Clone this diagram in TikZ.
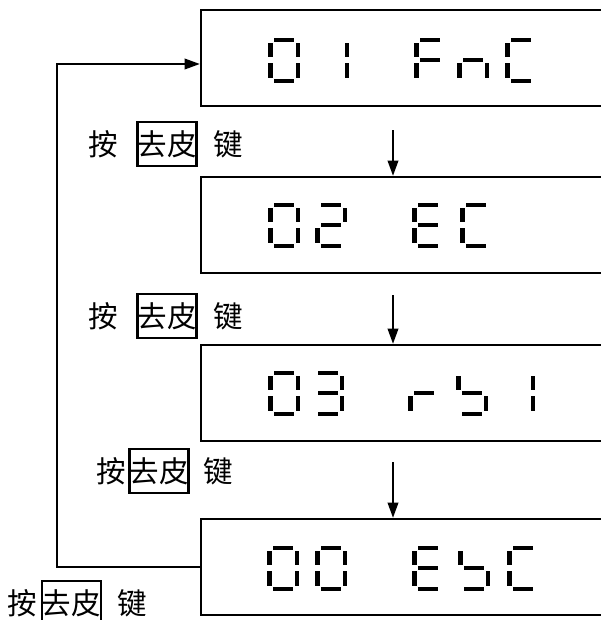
\documentclass[tikz,border=0pt]{standalone}
\usepackage{fontspec}
\newfontfamily\cjk{Noto Sans CJK SC}
\usepackage{tikz}
\usetikzlibrary{arrows.meta,positioning}

\tikzset{
	disp/.style={rectangle, draw, line width=0.55mm, minimum width=110mm, minimum height=24mm, inner sep=0pt},
	keytxt/.style={font=\cjk\fontsize{21}{21}\selectfont, inner sep=0pt, text height=18.5pt, text depth=2.5pt},
	keybox/.style={keytxt, draw, line width=0.55mm, minimum height=11mm, inner xsep=0pt},
	flow/.style={line width=0.55mm, -{Triangle[length=3.8mm,width=2.6mm]}},
	sega/.style={insert path={(6,0) rectangle (26,4)}},
	segb/.style={insert path={(27.5,5) rectangle (32,19)}},
	segc/.style={insert path={(27.5,25) rectangle (32,40)}},
	segd/.style={insert path={(6,41) rectangle (26,45)}},
	sege/.style={insert path={(0,25) rectangle (4.5,40)}},
	segf/.style={insert path={(0,5) rectangle (4.5,19)}},
	segg/.style={insert path={(6,20) rectangle (26,24)}}
}
\newcommand{\lcdchar}[3]{\foreach \s in {#3}{\fill[shift={(#1,#2)}] [seg\s];}}

\begin{document}
\begin{tikzpicture}[x=0.25mm, y=-0.25mm]
	\useasboundingbox (0,0) rectangle (600,620);

	\node[disp] (d1) at (421,58) {};
	\node[disp] (d2) at (421,225) {};
	\node[disp] (d3) at (421,393) {};
	\node[disp] (d4) at (421,567) {};

	\lcdchar{268}{38}{a,b,c,d,e,f}
	\lcdchar{317}{38}{b,c}
	\lcdchar{414}{38}{a,f,g,e}
	\lcdchar{457}{38}{g,e,c}
	\lcdchar{505}{38}{a,f,e,d}

	\lcdchar{268}{203}{a,b,c,d,e,f}
	\lcdchar{315}{203}{a,b,g,e,d}
	\lcdchar{412}{203}{a,f,g,e,d}
	\lcdchar{460}{203}{a,f,e,d}

	\lcdchar{268}{371}{a,b,c,d,e,f}
	\lcdchar{312}{371}{a,b,g,c,d}
	\lcdchar{408}{371}{e,g}
	\lcdchar{456}{371}{f,g,c,d}
	\lcdchar{503}{371}{b,c}

	\lcdchar{267}{546}{a,b,c,d,e,f}
	\lcdchar{315}{546}{a,b,c,d,e,f}
	\lcdchar{412}{546}{a,f,g,e,d}
	\lcdchar{458}{546}{f,g,c,d}
	\lcdchar{507}{546}{a,f,e,d}

	\node[keybox] (k1) at (167,144) {去皮};
	\node[keytxt, left=4.5mm of k1] (p1) {按};
	\node[keytxt, right=4mm of k1] (j1) {键};

	\node[keybox] (k2) at (167,316) {去皮};
	\node[keytxt, left=4.5mm of k2] (p2) {按};
	\node[keytxt, right=4mm of k2] (j2) {键};

	\node[keybox] (k3) at (159,471) {去皮};
	\node[keytxt, left=0.5mm of k3] (p3) {按};
	\node[keytxt, right=3.5mm of k3] (j3) {键};

	\node[keybox] (k4) at (71.5,603) {去皮};
	\node[keytxt, left=1mm of k4] (p4) {按};
	\node[keytxt, right=3.75mm of k4] (j4) {键};

	\coordinate (s1) at (393,130);
	\coordinate (s2) at (393,295);
	\coordinate (s3) at (393,462);
	\draw[flow] (s1) -- (s1 |- d2.north);
	\draw[flow] (s2) -- (s2 |- d3.north);
	\draw[flow] (s3) -- (s3 |- d4.north);

	\coordinate (lx) at (57,0);
	\draw[flow] (d4.west) -- (d4.west -| lx) |- ([yshift=-1.5mm]d1.west);
\end{tikzpicture}
\end{document}
